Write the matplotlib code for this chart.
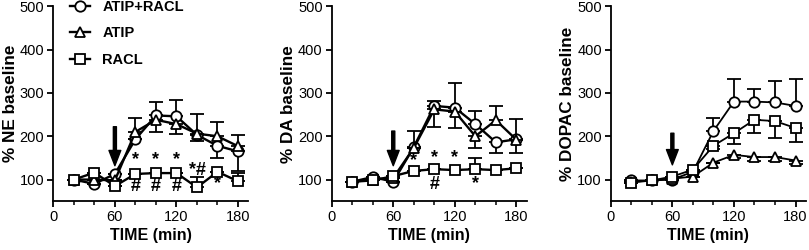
import matplotlib
matplotlib.use("Agg")
import matplotlib.pyplot as plt
from matplotlib.lines import Line2D

plt.rcParams['font.family'] = ['Liberation Sans', 'DejaVu Sans']

time = [20, 40, 60, 80, 100, 120, 140, 160, 180]

# NE
ne_combo = [100, 90, 113, 193, 248, 246, 203, 178, 165]
ne_combo_up = [0, 0, 0, 0, 30, 37, 0, 0, 0]
ne_combo_dn = [0, 0, 0, 0, 0, 0, 15, 28, 45]
ne_atip = [100, 100, 98, 210, 238, 228, 206, 200, 177]
ne_atip_up = [0, 0, 0, 31, 0, 0, 45, 32, 27]
ne_atip_dn = [0, 0, 0, 0, 28, 22, 0, 0, 0]
ne_racl = [100, 116, 85, 113, 115, 115, 82, 118, 96]
ne_racl_up = [0, 0, 0, 0, 0, 0, 25, 0, 20]
ne_racl_dn = [0, 0, 0, 0, 0, 0, 0, 0, 0]

# DA
da_combo = [95, 106, 95, 175, 270, 266, 228, 186, 193]
da_combo_up = [0, 0, 0, 36, 12, 58, 30, 0, 47]
da_combo_dn = [0, 0, 0, 0, 0, 0, 0, 25, 0]
da_atip = [95, 100, 104, 173, 262, 257, 200, 237, 192]
da_atip_up = [0, 0, 0, 0, 0, 0, 0, 32, 0]
da_atip_dn = [0, 0, 0, 0, 40, 38, 27, 0, 30]
da_racl = [95, 98, 108, 120, 124, 122, 124, 122, 126]
da_racl_up = [0, 0, 0, 0, 0, 0, 26, 0, 0]
da_racl_dn = [0, 0, 0, 0, 0, 0, 0, 0, 0]

# DOPAC
dopac_combo = [98, 98, 100, 118, 212, 280, 280, 278, 270]
dopac_combo_up = [0, 0, 0, 0, 30, 53, 29, 49, 63]
dopac_combo_dn = [0, 0, 0, 0, 0, 0, 0, 0, 0]
dopac_atip = [95, 98, 102, 107, 139, 157, 152, 152, 144]
dopac_atip_up = [0, 0, 0, 0, 0, 0, 0, 0, 0]
dopac_atip_dn = [0, 0, 0, 0, 0, 8, 8, 8, 8]
dopac_racl = [93, 98, 107, 123, 178, 207, 238, 235, 219]
dopac_racl_up = [0, 0, 0, 0, 0, 0, 0, 0, 0]
dopac_racl_dn = [0, 0, 0, 0, 8, 25, 30, 38, 33]

labels = ['ATIP+RACL', 'ATIP', 'RACL']
markers = ['o', '^', 's']

# arrow (top, tip) per panel, marks: (time, y, text)
arrows = [(222, 132), (212, 132), (207, 134)]
ne_marks = [(80, 146, '*'), (100, 146, '*'), (120, 146, '*'), (140, 122, '*#'),
            (160, 90, '*'), (80, 84, '#'), (100, 84, '#'), (120, 84, '#')]
da_marks = [(80, 144, '*'), (100, 150, '*'), (120, 150, '*'), (100, 88, '#'),
            (140, 90, '*')]

panels = [
    ('% NE baseline', [(ne_combo, ne_combo_dn, ne_combo_up), (ne_atip, ne_atip_dn, ne_atip_up),
                       (ne_racl, ne_racl_dn, ne_racl_up)], ne_marks, 1.7),
    ('% DA baseline', [(da_combo, da_combo_dn, da_combo_up), (da_atip, da_atip_dn, da_atip_up),
                       (da_racl, da_racl_dn, da_racl_up)], da_marks, 1.7),
    ('% DOPAC baseline', [(dopac_combo, dopac_combo_dn, dopac_combo_up),
                          (dopac_atip, dopac_atip_dn, dopac_atip_up),
                          (dopac_racl, dopac_racl_dn, dopac_racl_up)], [], 1.3),
]

fig = plt.figure(figsize=(8.09, 2.5), dpi=100)
lefts = [0.0659, 0.41, 0.755]

for i, (ylab, series, marks, lw) in enumerate(panels):
    ax = fig.add_axes([lefts[i], 0.195, 0.241, 0.78])
    for j, (vals, dn, up) in enumerate(series):
        ax.errorbar(time, vals, yerr=[dn, up], color='black', lw=lw, marker=markers[j],
                    markersize=7.5 if j < 2 else 7, markerfacecolor='white',
                    markeredgecolor='black', markeredgewidth=1.3, capsize=5,
                    elinewidth=1.3, capthick=1.3, zorder=3 + j)
    top, tip = arrows[i]
    ax.annotate('', xy=(60, tip), xytext=(60, top),
                arrowprops=dict(facecolor='black', edgecolor='black', width=2.2,
                                headwidth=8.5, headlength=11, shrink=0))
    for (tx, ty, s) in marks:
        ax.text(tx, ty, s, ha='center', va='center', fontsize=13, fontweight='bold')
    ax.set_xlim(0, 190)
    ax.set_ylim(50, 500)
    ax.set_xticks([0, 60, 120, 180])
    ax.set_xticks([20, 40, 80, 100, 140, 160], minor=True)
    ax.set_yticks([100, 200, 300, 400, 500])
    ax.spines['top'].set_visible(False)
    ax.spines['right'].set_visible(False)
    ax.spines['left'].set_linewidth(1.3)
    ax.spines['bottom'].set_linewidth(1.3)
    ax.tick_params(which='major', length=4, width=1.3, labelsize=10.5, pad=2.5)
    ax.tick_params(which='minor', length=3, width=1.1)
    ax.set_xlabel('TIME (min)', fontsize=11.5, fontweight='bold', labelpad=3)
    ax.set_ylabel(ylab, fontsize=12.3, fontweight='bold', labelpad=1.5)
    if i == 0:
        handles = [Line2D([], [], color='black', lw=lw, marker=m, markersize=7.5,
                          markerfacecolor='white', markeredgewidth=1.3) for m in markers]
        ax.legend(handles, labels, loc='upper left', bbox_to_anchor=(0.086, 1.033),
                  borderaxespad=0, borderpad=0, frameon=False, handlelength=1.4,
                  handletextpad=0.8, labelspacing=0.86,
                  prop={'weight': 'bold', 'size': 10.5})

fig.savefig('out.png', dpi=100)
